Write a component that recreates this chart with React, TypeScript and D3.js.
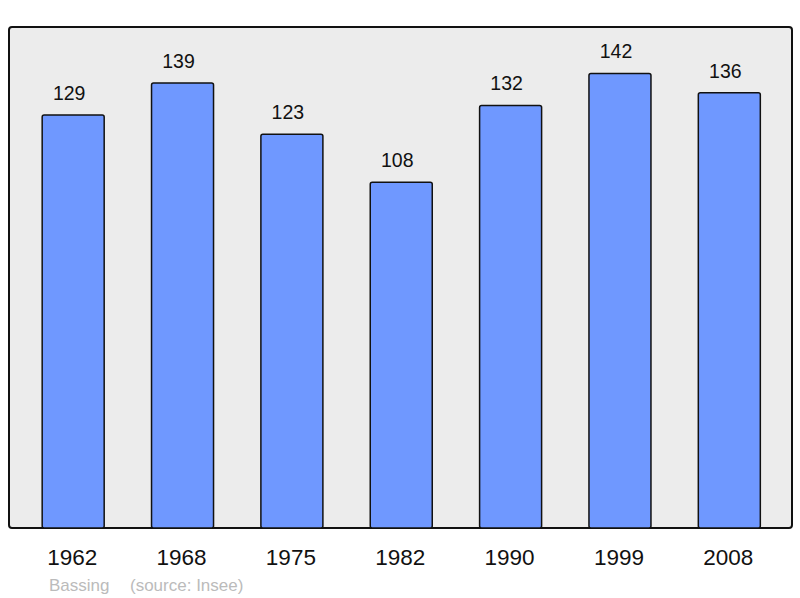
import React from 'react';
import * as d3 from 'd3';

const years = ['1962', '1968', '1975', '1982', '1990', '1999', '2008'];
const population = [129, 139, 123, 108, 132, 142, 136];
const place = 'Bassing';
const source = '(source: Insee)';

export default function App() {
  const width = 800;
  const height = 598;
  const frame = { x0: 9, x1: 792, y0: 27, y1: 528 };

  const x = d3.scaleBand<string>()
    .domain(years)
    .range([18.5, 784])
    .paddingInner(0.433)
    .paddingOuter(0.2165);

  const y = d3.scaleLinear()
    .domain([0, 156.5])
    .range([frame.y1, frame.y0]);

  const font = '"Liberation Sans", Arial, sans-serif';

  return (
    <svg width={width} height={height}
      style={{ position: 'absolute', left: 0, top: 0, display: 'block' }}>
      <rect x={frame.x0} y={frame.y0} width={frame.x1 - frame.x0} height={frame.y1 - frame.y0}
        rx={3} fill="#ececec" stroke="#111" strokeWidth={2} />
      {years.map((yr, i) => (
        <g key={yr}>
          <rect x={x(yr)} y={y(population[i])} width={x.bandwidth()}
            height={frame.y1 - y(population[i])} rx={2}
            fill="#6f98ff" stroke="#111" strokeWidth={1.5} />
          <text x={x(yr)! + x.bandwidth() / 2 - 4} y={y(population[i]) - 15}
            textAnchor="middle" fontFamily={font} fontSize={19.5} fill="#111">
            {population[i]}
          </text>
          <text x={x(yr)! + x.bandwidth() / 2 - 1} y={565}
            textAnchor="middle" fontFamily={font} fontSize={22.5} fill="#111">
            {yr}
          </text>
        </g>
      ))}
      <text x={49} y={591} fontFamily={font} fontSize={17} fill="#bbb">{place}</text>
      <text x={130} y={591} fontFamily={font} fontSize={17} fill="#bbb">{source}</text>
    </svg>
  );
}
